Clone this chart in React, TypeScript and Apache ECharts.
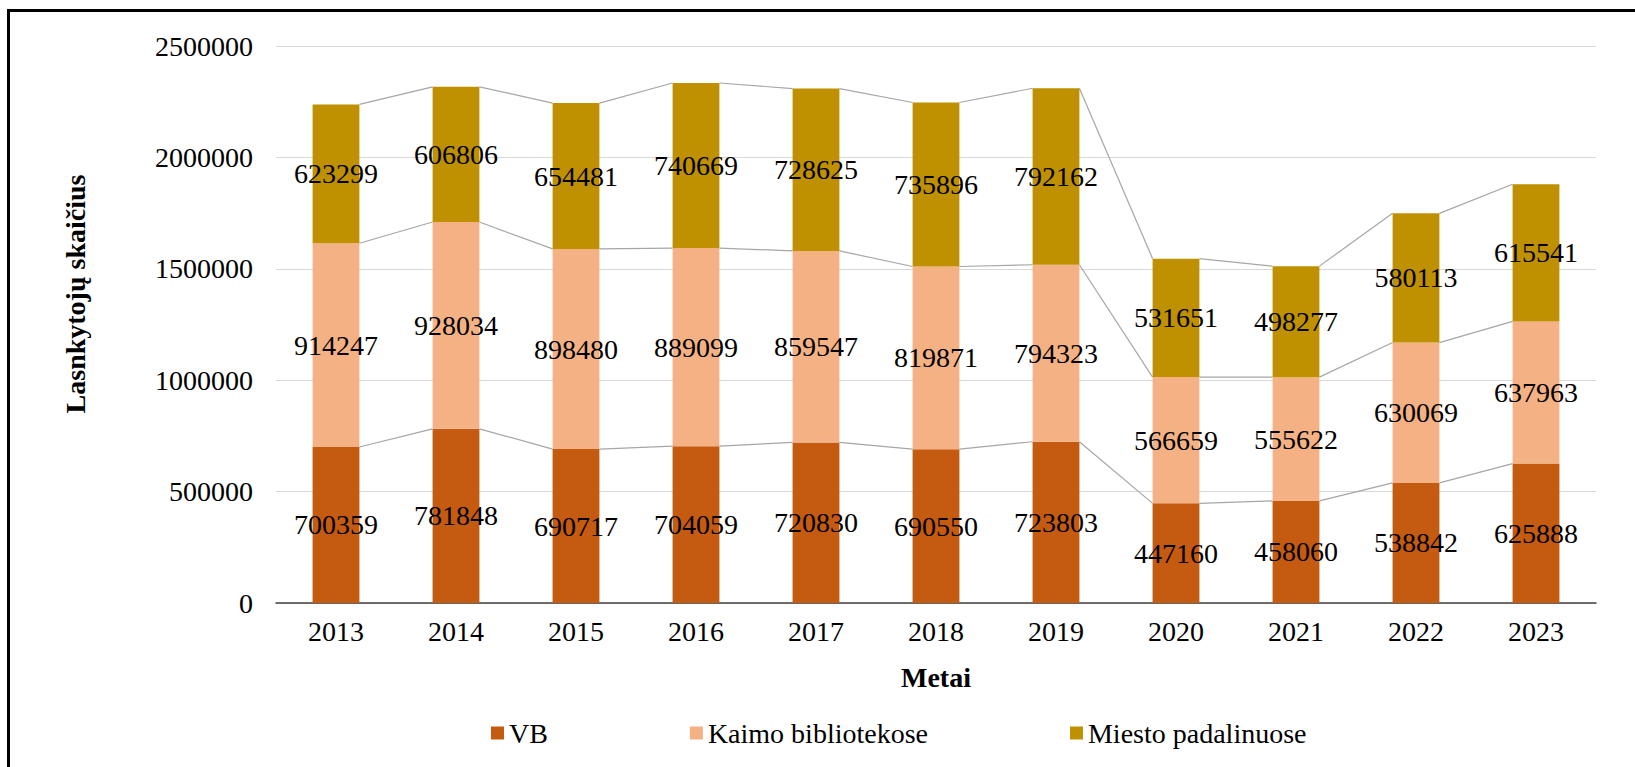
import React, { useEffect, useRef } from "react";
import * as echarts from "echarts";

const years = ["2013", "2014", "2015", "2016", "2017", "2018", "2019", "2020", "2021", "2022", "2023"];
const vb = [700359, 781848, 690717, 704059, 720830, 690550, 723803, 447160, 458060, 538842, 625888];
const kaimo = [914247, 928034, 898480, 889099, 859547, 819871, 794323, 566659, 555622, 630069, 637963];
const miesto = [623299, 606806, 654481, 740669, 728625, 735896, 792162, 531651, 498277, 580113, 615541];
const seriesNames = ["VB", "Kaimo bibliotekose", "Miesto padalinuose"];
const colors = ["#C55A11", "#F4B183", "#BF9000"];

const FONT = "Liberation Serif";
const BAR_FRAC = 0.39;

export default function App() {
  const ref = useRef<HTMLDivElement>(null);
  useEffect(() => {
    if (!ref.current) return;
    const chart = echarts.init(ref.current, null, { renderer: "svg" });
    const levels = [vb, kaimo, miesto];
    const cum: number[][] = [];
    levels.forEach((arr, li) => {
      cum.push(arr.map((v, i) => v + (li > 0 ? cum[li - 1][i] : 0)));
    });
    const connData: number[][] = [];
    cum.forEach((c) => {
      for (let i = 0; i < c.length - 1; i++) connData.push([i, c[i], c[i + 1]]);
    });

    const barSeries = levels.map((arr, li) => ({
      name: seriesNames[li],
      type: "bar",
      stack: "total",
      barWidth: BAR_FRAC * 100 + "%",
      data: arr,
      itemStyle: { color: colors[li] },
      label: {
        show: true,
        position: "inside",
        color: "#000",
        fontFamily: FONT,
        fontSize: 28,
      },
      z: 3,
    }));

    chart.setOption({
      animation: false,
      backgroundColor: "#fff",
      textStyle: { fontFamily: FONT },
      grid: { left: 276, right: 39, top: 46, bottom: 164 },
      legend: {
        left: 486,
        top: 714,
        itemWidth: 13,
        itemHeight: 13,
        itemGap: 142,
        icon: "rect",
        data: seriesNames,
        textStyle: { fontFamily: FONT, fontSize: 28, color: "#000" },
      },
      xAxis: {
        type: "category",
        data: years,
        name: "Metai",
        nameLocation: "middle",
        nameGap: 60,
        nameTextStyle: { fontFamily: FONT, fontSize: 28, fontWeight: "bold", color: "#000" },
        axisLine: { lineStyle: { color: "#404040", width: 1.5 } },
        axisTick: { show: false },
        axisLabel: { fontFamily: FONT, fontSize: 28, color: "#000", margin: 14 },
      },
      yAxis: {
        type: "value",
        min: 0,
        max: 2500000,
        interval: 500000,
        axisLine: { show: false },
        axisTick: { show: false },
        splitLine: { lineStyle: { color: "#d9d9d9", width: 1 } },
        axisLabel: {
          fontFamily: FONT,
          fontSize: 28,
          color: "#000",
          margin: 23,
          formatter: (v: number) => String(v),
        },
      },
      graphic: [
        {
          type: "text",
          x: 75,
          y: 294,
          rotation: Math.PI / 2,
          style: {
            text: "Lasnkytojų skaičius",
            fontFamily: FONT,
            fontSize: 28,
            fontWeight: "bold",
            fill: "#000",
            align: "center",
            verticalAlign: "middle",
          },
        },
        { type: "line", shape: { x1: 8.5, y1: 10.5, x2: 8.5, y2: 767 }, style: { stroke: "#000", lineWidth: 3 } },
        { type: "line", shape: { x1: 7, y1: 10.5, x2: 1635, y2: 10.5 }, style: { stroke: "#000", lineWidth: 3 } },
      ],
      series: [
        ...barSeries,
        {
          type: "custom",
          silent: true,
          z: 2,
          data: connData,
          encode: { x: 0, y: [1, 2] },
          renderItem: (params: any, api: any) => {
            const i = api.value(0);
            const p0 = api.coord([i, api.value(1)]);
            const p1 = api.coord([i + 1, api.value(2)]);
            const half = (api.size([1, 0])[0] * BAR_FRAC) / 2;
            return {
              type: "line",
              shape: { x1: p0[0] + half, y1: p0[1], x2: p1[0] - half, y2: p1[1] },
              style: { stroke: "#a6a6a6", lineWidth: 1.2 },
            };
          },
        },
      ],
    });
    return () => chart.dispose();
  }, []);
  return (
    <div
      ref={ref}
      style={{ position: "fixed", left: 0, top: 0, width: 1635, height: 767, background: "#fff" }}
    />
  );
}
